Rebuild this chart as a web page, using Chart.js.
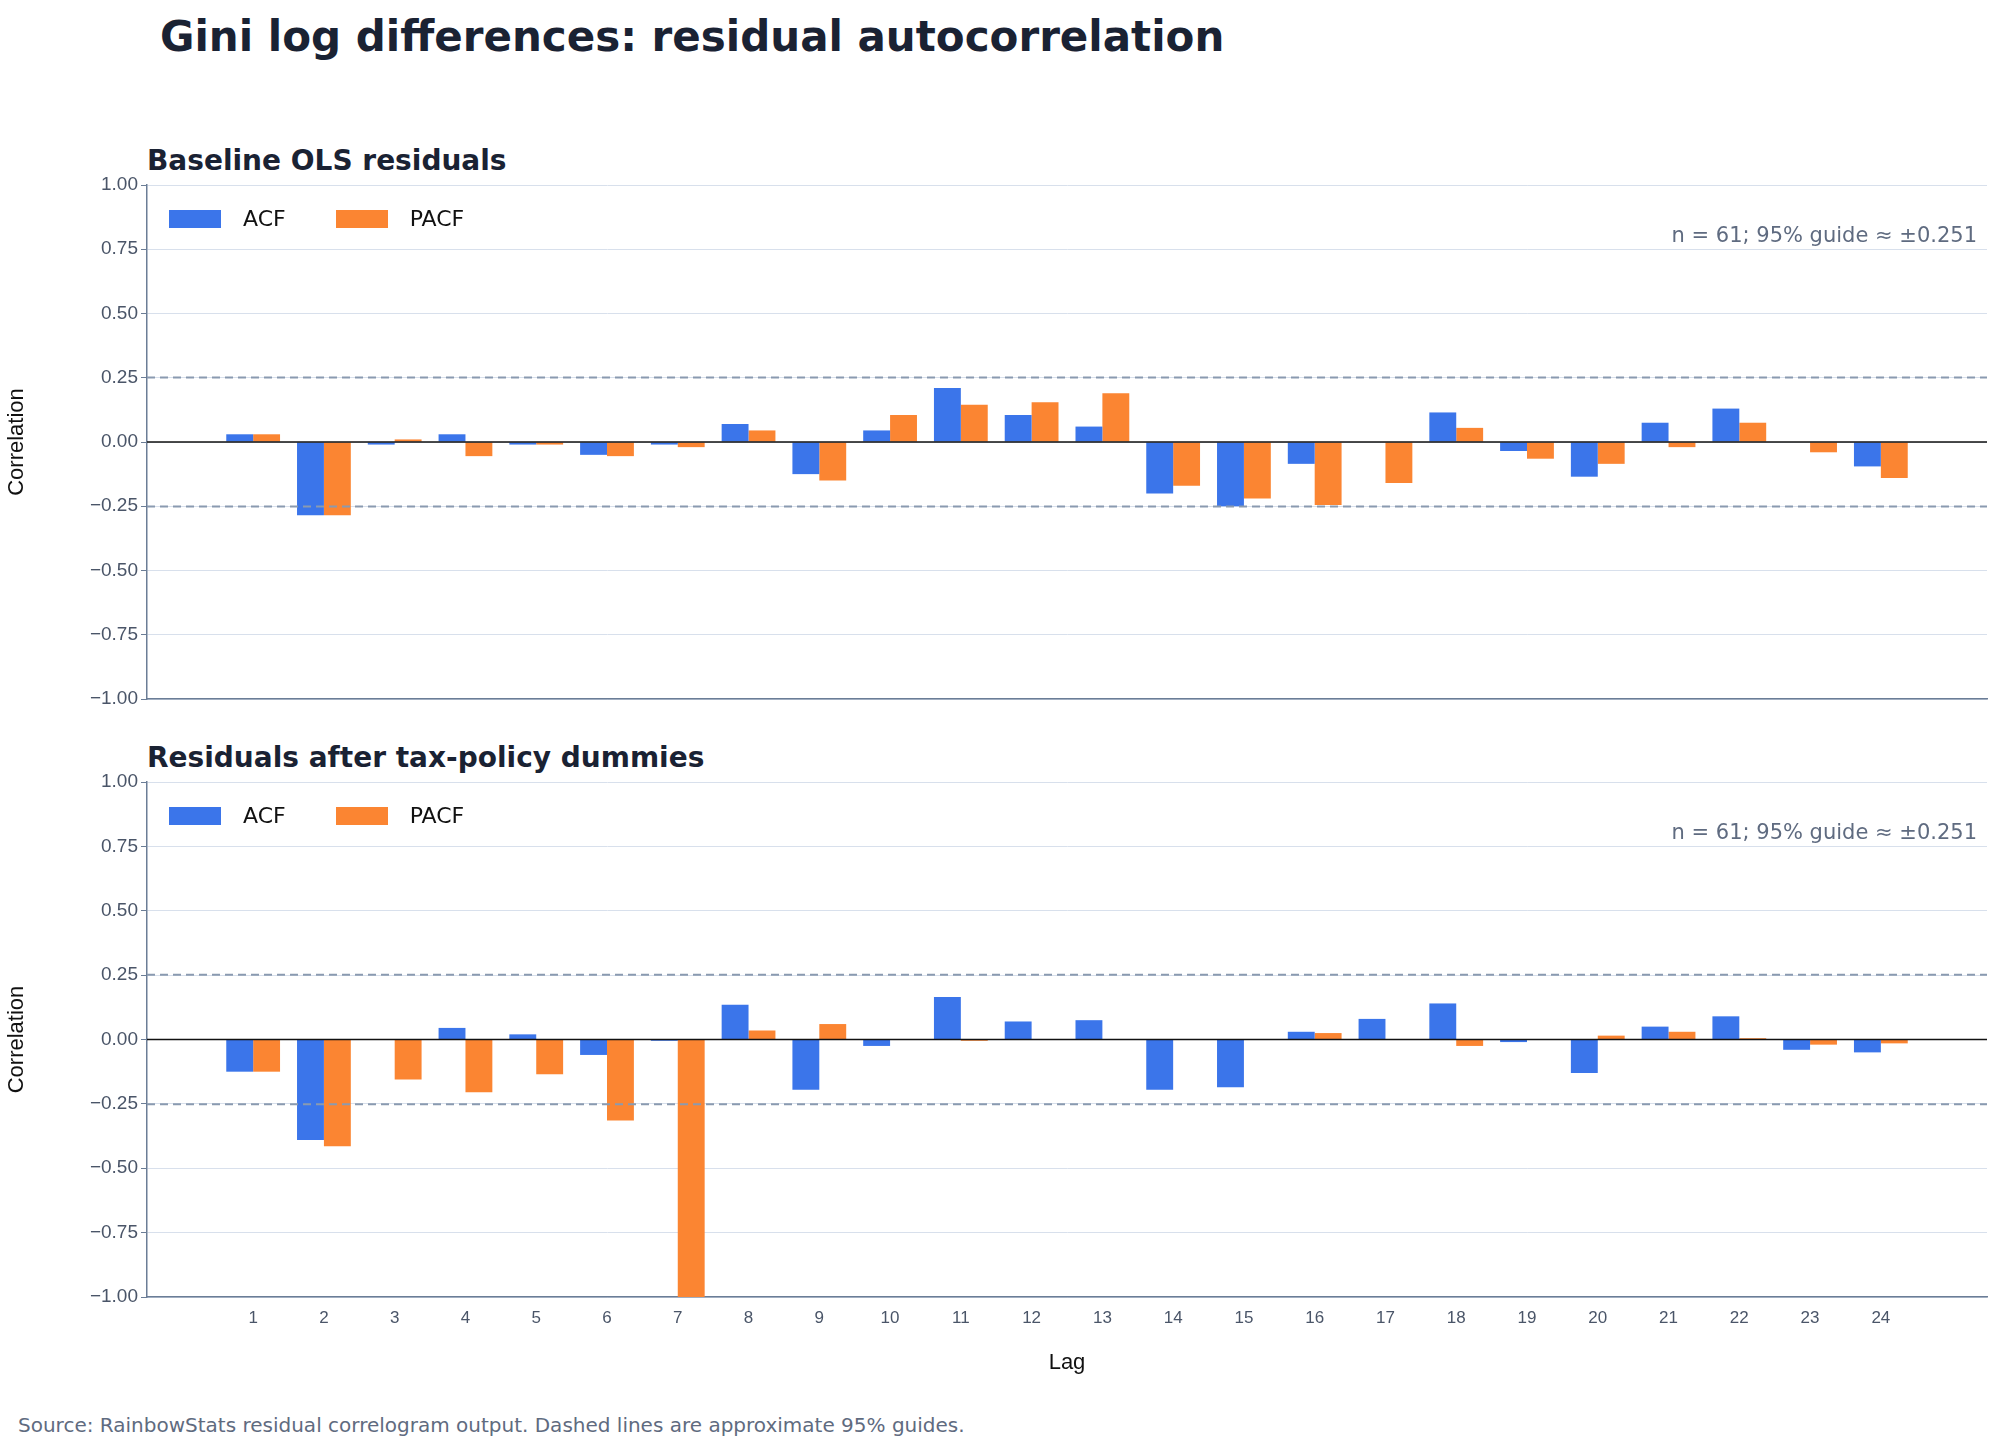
<!DOCTYPE html>
<html><head><meta charset="utf-8">
<script src="https://cdn.jsdelivr.net/npm/chart.js@4"></script>
<style>
body{margin:0;background:#fff;font-family:"DejaVu Sans",sans-serif;width:2004px;height:1454px;position:relative;overflow:hidden}
.t{position:absolute;color:#1a2233;font-weight:bold;white-space:nowrap}
.c{position:absolute;left:0;width:2004px}
.leg{position:absolute;font-size:22px;color:#111;display:flex;align-items:center}
.sw{display:inline-block;width:52px;height:18px;margin-right:22px}
</style></head><body>
<div class="t" style="left:160px;top:12px;font-size:42px">Gini log differences: residual autocorrelation</div>
<div class="t" style="left:147px;top:144px;font-size:28px">Baseline OLS residuals</div>
<div class="t" style="left:147px;top:741px;font-size:28px">Residuals after tax-policy dummies</div>
<div class="c" style="top:140px;height:600px"><canvas id="c1"></canvas></div>
<div class="c" style="top:740px;height:640px"><canvas id="c2"></canvas></div>
<div class="leg" style="left:169px;top:206px"><span class="sw" style="background:#3b75ea"></span>ACF<span style="width:50px"></span><span class="sw" style="background:#fb8532"></span>PACF</div>
<div class="leg" style="left:169px;top:803px"><span class="sw" style="background:#3b75ea"></span>ACF<span style="width:50px"></span><span class="sw" style="background:#fb8532"></span>PACF</div>
<div style="position:absolute;left:18px;top:1413px;font-size:20px;color:#5f6b80">Source: RainbowStats residual correlogram output. Dashed lines are approximate 95% guides.</div>
<script>
const lags=['',1,2,3,4,5,6,7,8,9,10,11,12,13,14,15,16,17,18,19,20,21,22,23,24,''];
const acfBase=[0.03,-0.285,-0.01,0.03,-0.01,-0.05,-0.01,0.07,-0.125,0.045,0.21,0.105,0.06,-0.2,-0.25,-0.085,0,0.115,-0.035,-0.135,0.075,0.13,0,-0.095];
const pacfBase=[0.03,-0.285,0.01,-0.055,-0.01,-0.055,-0.02,0.045,-0.15,0.105,0.145,0.155,0.19,-0.17,-0.22,-0.245,-0.16,0.055,-0.065,-0.085,-0.02,0.075,-0.04,-0.14];
const acfTax=[-0.125,-0.39,0,0.045,0.02,-0.06,-0.005,0.135,-0.195,-0.025,0.165,0.07,0.075,-0.195,-0.185,0.03,0.08,0.14,-0.01,-0.13,0.05,0.09,-0.04,-0.05];
const pacfTax=[-0.125,-0.415,-0.155,-0.205,-0.135,-0.315,-1.0,0.035,0.06,0,-0.005,0,0,0,0,0.025,0,-0.025,0,0.015,0.03,0.005,-0.02,-0.015];
const guide=0.251, nObs=61;
const yTicks=[-1,-0.75,-0.5,-0.25,0,0.25,0.5,0.75,1];
const pad=a=>[null,...a,null];
const guides={id:'g',afterDatasetsDraw(ch){const c=ch.ctx,a=ch.chartArea,y=ch.scales.y;c.save();
 c.strokeStyle='#8a9ab0';c.lineWidth=2;c.setLineDash([8,5]);
 [guide,-guide].forEach(v=>{const p=y.getPixelForValue(v);c.beginPath();c.moveTo(a.left,p);c.lineTo(a.right,p);c.stroke();});
 c.setLineDash([]);c.strokeStyle='#111';c.lineWidth=1.5;const z=y.getPixelForValue(0);c.beginPath();c.moveTo(a.left,z);c.lineTo(a.right,z);c.stroke();
 c.fillStyle='#5f6b80';c.font='21px "DejaVu Sans"';c.textAlign='right';c.textBaseline='middle';
 c.fillText('n = '+nObs+'; 95% guide ≈ ±'+guide.toFixed(3),a.right-10,y.getPixelForValue(0.8));c.restore();}};
function make(id,acf,pacf,showX,padTop,xh){
 new Chart(document.getElementById(id),{type:'bar',
 data:{labels:lags,datasets:[{label:'ACF',data:pad(acf),backgroundColor:'#3b75ea'},{label:'PACF',data:pad(pacf),backgroundColor:'#fb8532'}]},
 options:{responsive:true,maintainAspectRatio:false,animation:false,
 layout:{padding:{top:padTop,right:17,left:0,bottom:0}},
 datasets:{bar:{categoryPercentage:0.76,barPercentage:1}},
 plugins:{legend:{display:false},tooltip:{enabled:false}},
 scales:{x:{offset:true,grid:{display:false,drawTicks:true},border:{color:'#6b7d96',width:1.5},
   ticks:{display:showX,color:'#4a5568',font:{size:17},maxRotation:0,autoSkip:false},
   title:{display:showX,text:'Lag',color:'#111',font:{size:22}},
   afterFit(s){s.height=xh;}},
  y:{min:-1,max:1,afterBuildTicks(s){s.ticks=yTicks.map(v=>({value:v}));},
   grid:{color:'#d8e0ec',drawTicks:true,tickLength:6,tickColor:'#6b7d96'},border:{color:'#6b7d96',width:1.5},
   ticks:{color:'#4a5568',font:{size:19},callback:v=>(v<0?'\u2212':'')+Math.abs(v).toFixed(2)},
   title:{display:true,text:'Correlation',color:'#111',font:{size:22}},
   afterFit(s){s.width=147;}}}},
 plugins:[guides]});}
make('c1',acfBase,pacfBase,false,45,41);
make('c2',acfTax,pacfTax,true,42,83);
</script></body></html>
